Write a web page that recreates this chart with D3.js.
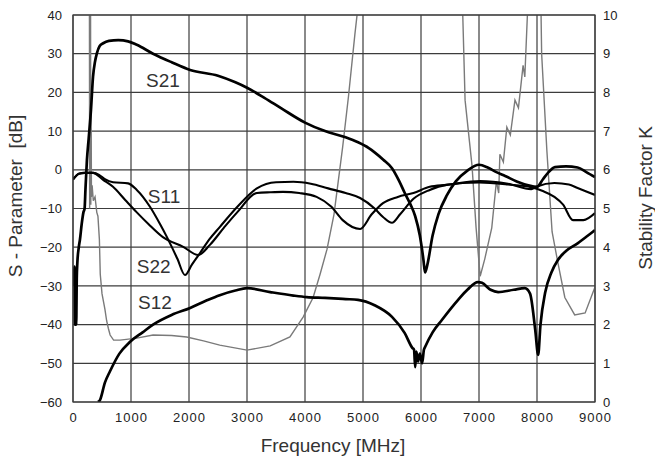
<!DOCTYPE html>
<html lang="en">
<head>
<meta charset="UTF-8">
<script src="https://d3js.org/d3.v7.min.js"></script>
<title>S-Parameter and Stability Factor</title>
<style>
  body { margin: 0; background: #fff; }
  svg text { font-family: "Liberation Sans", Arial, sans-serif; }
</style>
</head>
<body>
<div id="chart"></div>
<script>
// tick values for the three axes
const freqTicks = [0, 1000, 2000, 3000, 4000, 5000, 6000, 7000, 8000, 9000];
const dbTicks = [-60, -50, -40, -30, -20, -10, 0, 10, 20, 30, 40];
const kTicks = [0, 1, 2, 3, 4, 5, 6, 7, 8, 9, 10];

// [frequency MHz, dB]
const s21 = [[15,-30],[25,-25],[35,-40],[45,-27],[55,-40],[65,-28],[75,-24],[100,-20],[120,-18],[150,-14],
  [180,-11],[200,-10],[215,-5],[240,2.5],[270,8],[310,15.5],[345,24],[380,28],[410,30],[460,32],[520,32.7],
  [620,33.3],[780,33.5],[950,33.2],[1100,32.3],[1380,30],[1700,27.8],[2020,25.8],[2500,24.3],[2800,22.6],
  [3000,21.2],[3300,18.6],[3600,15.8],[4000,12.2],[4345,10],[4700,8.4],[4915,7.1],[5100,5.6],[5200,4.5],
  [5350,2.6],[5500,0.4],[5620,-2.8],[5720,-6],[5820,-9],[5900,-12],[5980,-17],[6040,-23],[6070,-26.5],
  [6110,-24.5],[6200,-17],[6300,-11.5],[6450,-6.5],[6600,-3],[6800,-0.2],[7000,1.3],[7150,0.6],[7300,-0.6],
  [7450,-1.6],[7650,-3],[7850,-4],[8000,-4.4],[8100,-2.5],[8200,-0.6],[8310,0.7],[8500,0.9],[8700,0.6],
  [8850,-0.6],[9000,-1.9]];

const s22 = [[0,-2.5],[60,-1.5],[100,-1],[200,-0.8],[350,-0.8],[450,-1.3],[550,-2.4],[690,-3.2],[950,-3.5],
  [1100,-5.2],[1330,-9.6],[1500,-14],[1620,-17.4],[1800,-23],[1930,-27.2],[2050,-24.5],[2190,-21.5],
  [2350,-18],[2530,-14.8],[2830,-9.6],[3170,-4.8],[3500,-3.2],[3800,-3.1],[4100,-3.6],[4400,-4.8],[4700,-6],
  [4950,-7.3],[5200,-10],[5345,-12.2],[5500,-13.7],[5640,-11.5],[5870,-7.5],[6150,-5.2],[6440,-3.9],
  [7000,-3.3],[7500,-3.8],[7900,-4.5],[8100,-5.5],[8300,-7],[8450,-9],[8620,-13],[8800,-13],[9000,-11.2]];

const s11 = [[0,-2.5],[60,-1.5],[100,-1],[200,-0.8],[345,-0.8],[520,-2.6],[690,-4.4],[900,-7.8],[1100,-11],
  [1300,-14],[1550,-17.4],[1900,-19.9],[2160,-22],[2360,-19.4],[2600,-15],[2830,-11],[3170,-6],[3400,-5.8],
  [3620,-5.7],[3900,-6],[4200,-7],[4450,-9.5],[4650,-13],[4950,-15.3],[5150,-11.5],[5345,-8.6],[5600,-7],
  [5870,-6],[6150,-4.4],[6440,-3.9],[7020,-2.9],[7500,-3.6],[7900,-5],[8000,-4.3],[8300,-3.4],[8550,-3.8],
  [8700,-4.7],[9000,-6.5]];

const s12 = [[430,-60],[465,-59.5],[550,-55],[640,-52],[800,-47.5],[980,-44.5],[1200,-42],[1380,-40],
  [1700,-37.5],[2020,-35.7],[2300,-33.8],[2530,-32.4],[2800,-31.2],[3000,-30.6],[3400,-31.6],[3800,-32.5],
  [4030,-32.9],[4345,-33.1],[4700,-33.4],[4914,-33.6],[5200,-35],[5500,-38],[5720,-42.2],[5850,-46],
  [5880,-46.5],[5900,-51],[5920,-47],[5950,-49.5],[5980,-47.5],[6020,-50],[6050,-46.5],[6070,-45.8],
  [6200,-42],[6360,-38.8],[6640,-33.6],[6800,-31],[6980,-29],[7050,-29.2],[7200,-31],[7330,-31.6],
  [7600,-31],[7790,-30.6],[7880,-32],[7970,-41.4],[8020,-47.8],[8060,-40],[8140,-31.8],[8250,-26.5],
  [8360,-23.3],[8500,-21],[8700,-19],[8850,-17.3],[9000,-15.6]];

// [frequency MHz, K] on the right axis, values above 10 run off the top
const stabK = [[282,12],[287,5.0],[292,11],[297,5.2],[302,11],[307,5.1],[312,8],[318,5.3],[330,5.6],
  [350,5.2],[380,5.3],[410,4.9],[430,4.8],[455,4.2],[470,3.3],[500,2.8],[520,2.64],[550,2.4],[580,2.1],
  [610,1.9],[640,1.73],[700,1.6],[810,1.6],[1100,1.65],[1380,1.73],[1700,1.72],[1960,1.68],[2250,1.58],
  [2530,1.47],[3000,1.34],[3400,1.45],[3740,1.68],[3970,2.2],[4140,2.7],[4260,3.3],[4380,3.95],[4500,4.85],
  [4650,6.6],[4750,7.9],[4860,9.5],[4920,10.3],[5000,12],[6650,12],[6720,10],[6760,7.8],[6880,6.1],
  [6950,4.5],[7020,3.25],[7100,3.7],[7220,4.5],[7300,5.7],[7340,5.4],[7360,6.4],[7420,6.2],[7480,7.1],
  [7540,6.9],[7620,7.8],[7680,7.6],[7760,8.7],[7790,8.4],[7840,10.2],[7900,12],[8050,12],[8080,9],
  [8170,6.5],[8260,4.4],[8360,3.6],[8480,2.7],[8650,2.25],[8830,2.3],[9000,2.97]];

// curve names placed in data units
const curveLabels = [
  { name: "S21", f: 1260, db: 21.4 },
  { name: "S11", f: 1290, db: -8.6 },
  { name: "S22", f: 1100, db: -26.7 },
  { name: "S12", f: 1120, db: -36 }
];

const margin = { top: 15, right: 60, bottom: 58, left: 73 },
  width = 655 - margin.left - margin.right,
  height = 460 - margin.top - margin.bottom;

const root = d3.select("#chart")
  .append("svg")
  .attr("width", 655)
  .attr("height", 460);

const svg = root.append("g")
  .attr("transform", `translate(${margin.left},${margin.top})`);

const x = d3.scaleLinear().domain([0, 9000]).range([0, width]);
const y = d3.scaleLinear().domain([-60, 40]).range([height, 0]);
const yK = d3.scaleLinear().domain([0, 10]).range([height, 0]);

// grid
svg.append("g")
  .selectAll("line")
  .data(freqTicks)
  .join("line")
  .attr("x1", d => x(d)).attr("x2", d => x(d))
  .attr("y1", 0).attr("y2", height)
  .attr("stroke", "#3c3c3c").attr("stroke-width", 1.2);

svg.append("g")
  .selectAll("line")
  .data(dbTicks)
  .join("line")
  .attr("x1", 0).attr("x2", width)
  .attr("y1", d => y(d)).attr("y2", d => y(d))
  .attr("stroke", "#3c3c3c").attr("stroke-width", 1.2);

// tick labels
const styleAxis = g => {
  g.select(".domain").remove();
  g.selectAll("text")
    .attr("font-size", 13)
    .attr("fill", "#222")
    .attr("font-family", "Liberation Sans, Arial, sans-serif");
};

svg.append("g")
  .call(d3.axisLeft(y).tickValues(dbTicks).tickSize(0).tickPadding(11))
  .call(styleAxis);

svg.append("g")
  .attr("transform", `translate(${width},0)`)
  .call(d3.axisRight(yK).tickValues(kTicks).tickSize(0).tickPadding(8))
  .call(styleAxis);

svg.append("g")
  .attr("transform", `translate(0,${height})`)
  .call(d3.axisBottom(x).tickValues(freqTicks).tickSize(0).tickPadding(11).tickFormat(d3.format("d")))
  .call(styleAxis)
  .selectAll("text")
  .attr("letter-spacing", "1px");

// clip curves to the plot area
svg.append("clipPath")
  .attr("id", "plot-clip")
  .append("rect")
  .attr("width", width)
  .attr("height", height);

const plot = svg.append("g").attr("clip-path", "url(#plot-clip)");

const lineDb = d3.line().x(d => x(d[0])).y(d => y(d[1])).curve(d3.curveMonotoneX);
const lineK = d3.line().x(d => x(d[0])).y(d => yK(d[1]));

plot.append("path").datum(stabK)
  .attr("fill", "none").attr("stroke", "#7a7a7a").attr("stroke-width", 1.4)
  .attr("d", lineK);

const series = [
  { data: s11, w: 2.1 },
  { data: s22, w: 2.1 },
  { data: s12, w: 2.7 },
  { data: s21, w: 2.7 }
];

plot.selectAll(".sline")
  .data(series)
  .join("path")
  .attr("class", "sline")
  .attr("fill", "none")
  .attr("stroke", "#000")
  .attr("stroke-width", d => d.w)
  .attr("stroke-linejoin", "round")
  .attr("d", d => lineDb(d.data));

// frame
svg.append("rect")
  .attr("width", width).attr("height", height)
  .attr("fill", "none").attr("stroke", "#3c3c3c").attr("stroke-width", 1.2);

// curve names
svg.selectAll(".clabel")
  .data(curveLabels)
  .join("text")
  .attr("class", "clabel")
  .attr("x", d => x(d.f))
  .attr("y", d => y(d.db))
  .attr("font-size", 19)
  .attr("fill", "#333")
  .text(d => d.name);

// axis titles
root.append("text")
  .attr("transform", "translate(22,196) rotate(-90)")
  .attr("text-anchor", "middle")
  .attr("font-size", 19)
  .attr("fill", "#333")
  .style("white-space", "pre")
  .text("S - Parameter  [dB]");

root.append("text")
  .attr("transform", "translate(652,198) rotate(-90)")
  .attr("text-anchor", "middle")
  .attr("font-size", 19)
  .attr("fill", "#333")
  .text("Stability Factor K");

root.append("text")
  .attr("x", 333)
  .attr("y", 452)
  .attr("text-anchor", "middle")
  .attr("font-size", 19)
  .attr("fill", "#333")
  .text("Frequency [MHz]");
</script>
</body>
</html>
